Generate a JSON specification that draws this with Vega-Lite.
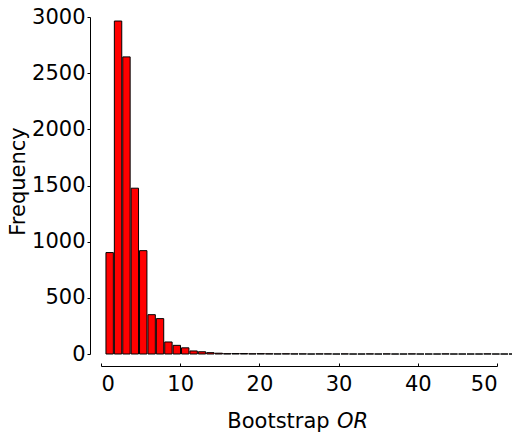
{
  "$schema": "https://vega.github.io/schema/vega-lite/v6.json",
  "width": 396,
  "height": 337,
  "autosize": {"type": "none"},
  "padding": {"left": 101, "top": 17, "right": 15, "bottom": 80},
  "background": "white",
  "config": {
    "view": {"stroke": null},
    "font": "DejaVu Sans",
    "axis": {"grid": false, "domainColor": "black", "tickColor": "black", "labelColor": "black", "titleColor": "black", "labelFontSize": 21, "titleFontSize": 21, "titleFontWeight": "normal", "labelFont": "DejaVu Sans", "titleFont": "DejaVu Sans", "domainWidth": 1, "tickWidth": 1}
  },
  "data": {
    "values": [
      {"start": 0.50, "end": 1.56, "count": 903},
      {"start": 1.56, "end": 2.62, "count": 2964},
      {"start": 2.62, "end": 3.68, "count": 2645},
      {"start": 3.68, "end": 4.74, "count": 1476},
      {"start": 4.74, "end": 5.80, "count": 920},
      {"start": 5.80, "end": 6.86, "count": 350},
      {"start": 6.86, "end": 7.92, "count": 315},
      {"start": 7.92, "end": 8.98, "count": 107},
      {"start": 8.98, "end": 10.04, "count": 77},
      {"start": 10.04, "end": 11.10, "count": 55},
      {"start": 11.10, "end": 12.16, "count": 27},
      {"start": 12.16, "end": 13.22, "count": 20},
      {"start": 13.22, "end": 14.28, "count": 12},
      {"start": 14.28, "end": 15.34, "count": 7},
      {"start": 15.34, "end": 16.40, "count": 3},
      {"start": 16.40, "end": 17.46, "count": 4},
      {"start": 17.46, "end": 18.52, "count": 4},
      {"start": 18.52, "end": 19.58, "count": 2},
      {"start": 19.58, "end": 20.64, "count": 3},
      {"start": 20.64, "end": 21.70, "count": 2},
      {"start": 21.70, "end": 22.76, "count": 1},
      {"start": 22.76, "end": 23.82, "count": 2},
      {"start": 23.82, "end": 24.88, "count": 1},
      {"start": 24.88, "end": 25.94, "count": 1},
      {"start": 25.94, "end": 27.00, "count": 0},
      {"start": 27.00, "end": 28.06, "count": 1},
      {"start": 28.06, "end": 29.12, "count": 1},
      {"start": 29.12, "end": 30.18, "count": 0},
      {"start": 30.18, "end": 31.24, "count": 1},
      {"start": 31.24, "end": 32.30, "count": 0},
      {"start": 32.30, "end": 33.36, "count": 0},
      {"start": 33.36, "end": 34.42, "count": 1},
      {"start": 34.42, "end": 35.48, "count": 0},
      {"start": 35.48, "end": 36.54, "count": 1},
      {"start": 36.54, "end": 37.60, "count": 0},
      {"start": 37.60, "end": 38.66, "count": 0},
      {"start": 38.66, "end": 39.72, "count": 1},
      {"start": 39.72, "end": 40.78, "count": 0},
      {"start": 40.78, "end": 41.84, "count": 0},
      {"start": 41.84, "end": 42.90, "count": 0},
      {"start": 42.90, "end": 43.96, "count": 1},
      {"start": 43.96, "end": 45.02, "count": 0},
      {"start": 45.02, "end": 46.08, "count": 0},
      {"start": 46.08, "end": 47.14, "count": 0},
      {"start": 47.14, "end": 48.20, "count": 0},
      {"start": 48.20, "end": 49.26, "count": 1},
      {"start": 49.26, "end": 50.32, "count": 0},
      {"start": 50.32, "end": 51.38, "count": 0},
      {"start": 51.38, "end": 52.44, "count": 0}
    ]
  },
  "layer": [
    {
      "mark": {"type": "bar", "fill": "#ff0000", "stroke": "black", "strokeWidth": 1},
      "encoding": {
        "x": {"field": "start", "type": "quantitative", "bin": {"binned": true},
              "scale": {"domain": [0, 50], "nice": false, "zero": false},
              "axis": {"values": [0, 10, 20, 30, 40, 50], "format": "d", "offset": 12, "tickSize": -3, "labelPadding": 10, "title": "Bootstrap", "titleX": 177, "titleY": 61, "titleAlign": "center", "titleBaseline": "alphabetic"}},
        "x2": {"field": "end"},
        "y": {"field": "count", "type": "quantitative",
              "scale": {"domain": [0, 3000], "nice": false},
              "axis": {"values": [0, 500, 1000, 1500, 2000, 2500, 3000], "format": "d", "offset": 11, "tickSize": 3, "labelPadding": 2, "title": "Frequency", "titleX": -66, "titleY": 164, "titleAlign": "center", "titleBaseline": "alphabetic", "titleAngle": -90}}
      }
    },
    {
      "mark": {"type": "bar", "opacity": 0},
      "encoding": {
        "x": {"field": "start", "type": "quantitative",
              "axis": {"orient": "bottom", "offset": 12, "labels": false, "ticks": false, "domain": false, "title": "OR", "titleFontStyle": "italic", "titleX": 251, "titleY": 61, "titleAlign": "center", "titleBaseline": "alphabetic"}},
        "x2": {"field": "end"}
      }
    }
  ],
  "resolve": {"axis": {"x": "independent"}}
}
